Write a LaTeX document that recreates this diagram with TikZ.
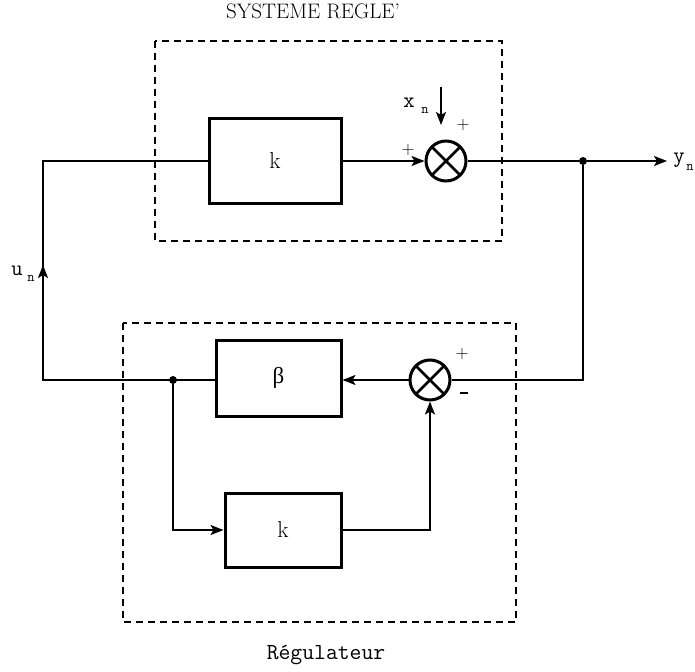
\documentclass[tikz,border=0pt]{standalone}
\usepackage{fontspec}
\newfontfamily\grk{Liberation Serif}
\usetikzlibrary{arrows.meta}
\begin{document}
\begin{tikzpicture}[x=1pt,y=-1pt,
  blk/.style={draw,line width=3pt,inner sep=0pt,font=\fontsize{23}{27}\selectfont},
  sum/.style={circle,draw,line width=3pt,minimum size=40pt,inner sep=0pt,
    path picture={\draw[line width=2.8pt]
      (path picture bounding box.north west)--(path picture bounding box.south east)
      (path picture bounding box.north east)--(path picture bounding box.south west);}},
  wire/.style={line width=2pt},
  arr/.style={wire,-{Stealth[length=13pt,width=10pt,inset=3pt]}},
  frame/.style={line width=2.4pt,dash pattern=on 7pt off 5pt},
  dot/.style={circle,fill,inner sep=0pt,minimum size=8pt},
  lbl/.style={font=\ttfamily\fontsize{22}{26}\selectfont,inner sep=0pt},
  sub/.style={font=\ttfamily\fontsize{14}{16}\selectfont,inner sep=0pt},
  sgn/.style={font=\fontsize{18}{20}\selectfont,inner sep=0pt}
]
\useasboundingbox (0,0) rectangle (695,671);

% dashed frames: controlled system and controller
\draw[frame] (155,41) rectangle (502,241);
\draw[frame] (123,323) rectangle (516,622);

% titles
\node[font=\fontsize{21}{24}\selectfont,inner sep=0pt] (title) at (313,11) {SYSTEME REGLE'};
\node[font=\ttfamily\fontsize{23}{26}\selectfont,inner sep=0pt] (reg) at (326,655) {Régulateur};

% blocks
\node[blk,minimum width=132pt,minimum height=84pt] (k1) at (275,161) {k};
\node[sum] (s1) at (446,161) {};
\node[dot] (o) at (583,161) {};
\coordinate (yend) at (667,161);
\node[sum] (s2) at (430,380) {};
\node[blk,minimum width=125pt,minimum height=76pt] (beta) at (278.5,378) {\grk β};
\node[blk,minimum width=116pt,minimum height=74pt] (k2) at (283,530) {k};
\node[dot] (d2) at (173,380) {};
\coordinate (c1) at (43,380);
\coordinate (c2) at (43,161);
\coordinate (ua) at (43,265);
\coordinate (xa) at (441,87);
\coordinate (xb) at (441,125);

% connectors
\draw[arr] (k1) -- (s1);
\draw[wire] (s1) -- (o);
\draw[arr] (o) -- (yend);
\draw[wire] (o) |- (s2);
\draw[arr] (s2) -- (s2 -| beta.east);
\draw[wire] (beta.west |- d2) -- (c1) -- (c2) -- (k1);
\draw[arr] (c1) -- (ua);
\draw[arr] (d2) |- (k2);
\draw[arr] (k2) -| (s2);
\draw[arr] (xa) -- (xb);

% signal labels
\node[lbl] (xl) at (409,103) {x};
\node[sub] (xs) at (425,110) {n};
\node[lbl] (ul) at (17,271) {u};
\node[sub] (us) at (31,278) {n};
\node[lbl,anchor=base] (yl) at (679,162) {y};
\node[sub] (ys) at (690,167) {n};

% signs at the summing junctions
\node[sgn] (p1) at (408,150) {+};
\node[sgn] (p2) at (463,125) {+};
\node[sgn] (p3) at (462,354) {+};
\node[inner sep=0pt] (m3) at (464,393) {\rule{8pt}{2.6pt}};
\end{tikzpicture}
\end{document}
